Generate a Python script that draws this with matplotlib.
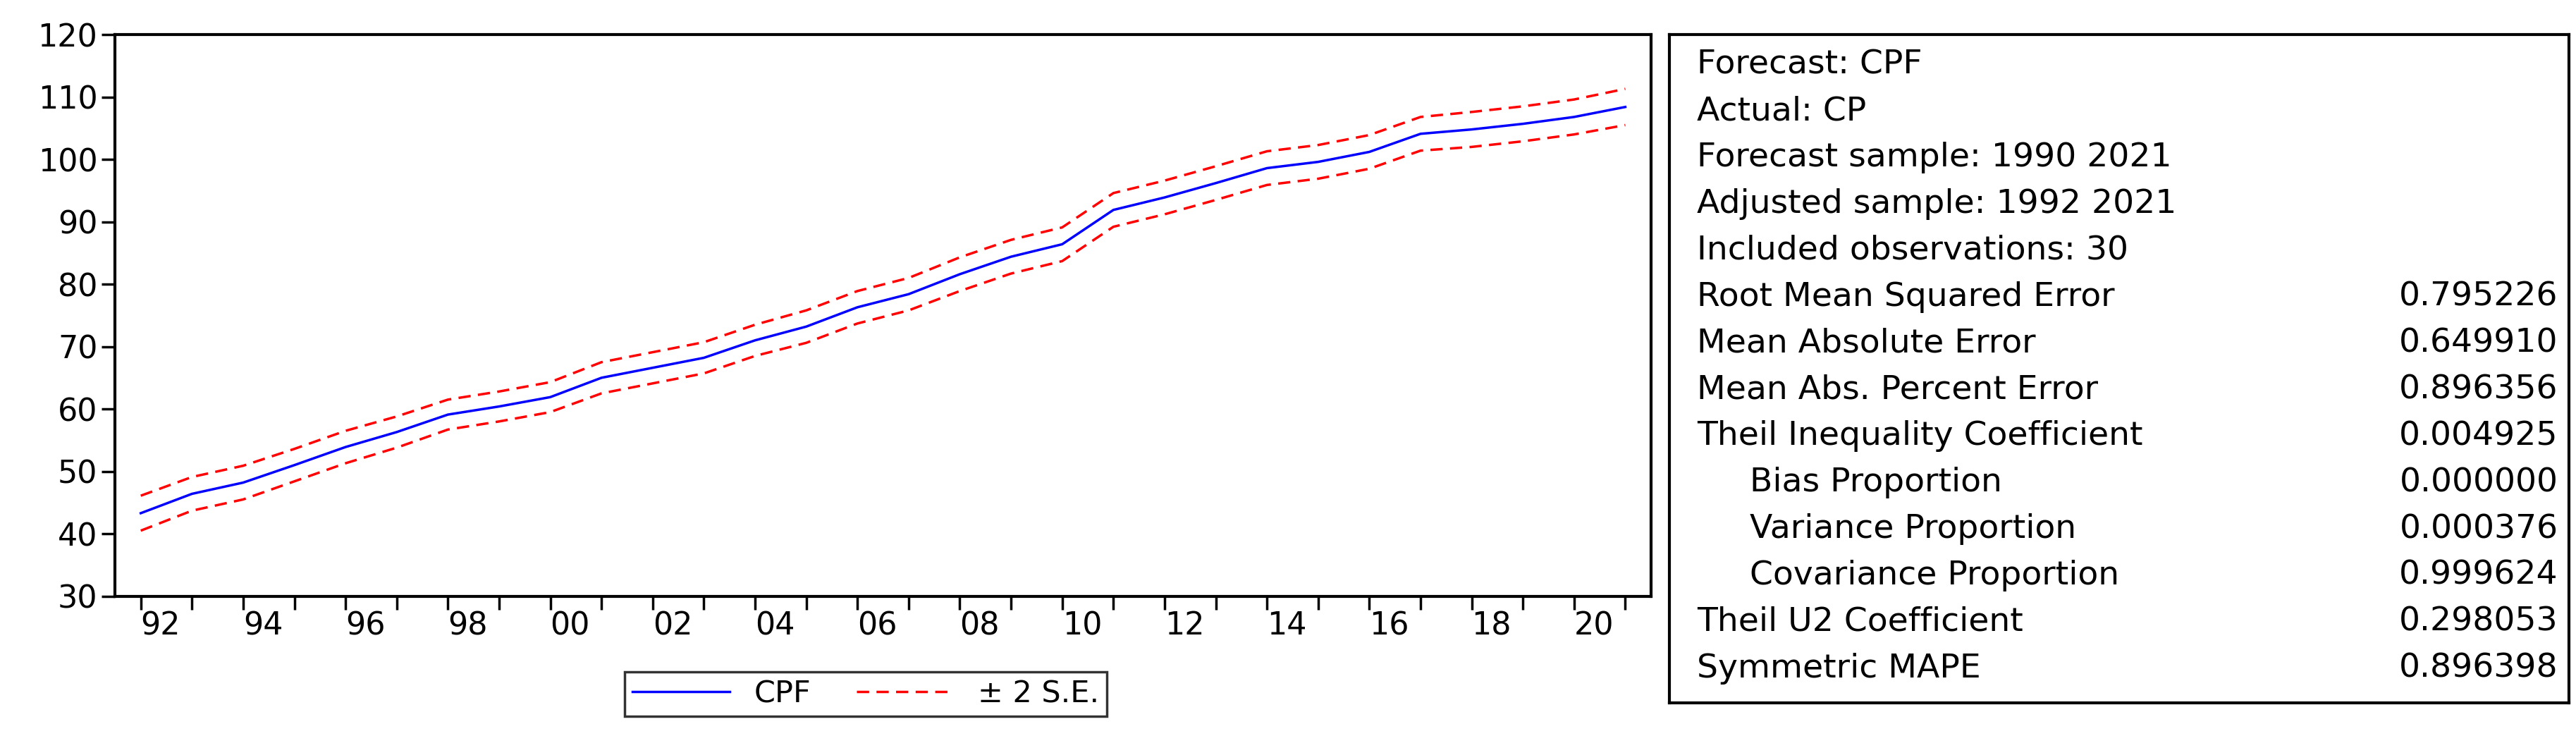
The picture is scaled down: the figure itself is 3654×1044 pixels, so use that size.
import matplotlib.pyplot as plt
from matplotlib.lines import Line2D

plt.rcParams['font.family'] = ['DejaVu Sans']

years = list(range(1992, 2022))
cpf = [43.3, 46.4, 48.2, 51.0, 53.9, 56.3, 59.1, 60.4, 61.9, 65.0,
       66.6, 68.2, 71.0, 73.2, 76.3, 78.4, 81.6, 84.4, 86.4, 91.9,
       93.9, 96.2, 98.6, 99.6, 101.2, 104.1, 104.8, 105.7, 106.8, 108.4]
# two standard errors around the forecast
band = [2.8, 2.7, 2.7, 2.6, 2.6, 2.5, 2.4, 2.4, 2.4, 2.5,
        2.5, 2.5, 2.5, 2.6, 2.6, 2.6, 2.7, 2.7, 2.7, 2.7,
        2.7, 2.7, 2.7, 2.7, 2.7, 2.7, 2.8, 2.8, 2.8, 2.9]
upper = [c + b for c, b in zip(cpf, band)]
lower = [c - b for c, b in zip(cpf, band)]

stat_names = ["Forecast: CPF", "Actual: CP", "Forecast sample: 1990 2021",
              "Adjusted sample: 1992 2021", "Included observations: 30",
              "Root Mean Squared Error", "Mean Absolute Error",
              "Mean Abs. Percent Error", "Theil Inequality Coefficient",
              "     Bias Proportion", "     Variance Proportion",
              "     Covariance Proportion", "Theil U2 Coefficient",
              "Symmetric MAPE"]
stat_values = ["", "", "", "", "", "0.795226", "0.649910", "0.896356",
               "0.004925", "0.000000", "0.000376", "0.999624", "0.298053",
               "0.896398"]

fig = plt.figure(figsize=(36.55, 10.44), dpi=100)
ax = fig.add_axes([0.0447, 0.190, 0.596, 0.763])

ax.plot(years, cpf, color='blue', lw=2.5)
ax.plot(years, upper, color='red', lw=2.5, ls=(0, (5, 3)))
ax.plot(years, lower, color='red', lw=2.5, ls=(0, (5, 3)))

ax.set_xlim(1991.5, 2021.5)
ax.set_ylim(30, 120)
ax.set_yticks(range(30, 121, 10))
ax.set_xticks(years)
ax.set_xticklabels([f"{y % 100:02d}" if y % 2 == 0 else "" for y in years])
ax.tick_params(axis='both', labelsize=32, width=2.5, length=14, direction='out')
ax.tick_params(axis='x', pad=1)
ax.tick_params(axis='y', pad=4)
for lab in ax.get_xticklabels():
    lab.set_horizontalalignment('left')
for s in ax.spines.values():
    s.set_linewidth(3)

handles = [Line2D([], [], color='blue', lw=2.5),
           Line2D([], [], color='red', lw=2.5, ls=(0, (5, 3)))]
leg = fig.legend(handles, ["CPF", "\u00b1 2 S.E."], loc='center',
                 bbox_to_anchor=(0.336, 0.057), ncol=2, fontsize=31,
                 frameon=True, fancybox=False, edgecolor='black',
                 handlelength=3.2, columnspacing=1.5, borderpad=0.25)
leg.get_frame().set_linewidth(2.5)

box = fig.add_axes([0.648, 0.045, 0.349, 0.908])
box.set_xticks([])
box.set_yticks([])
box.set_ylim(0, 1)
box.set_xlim(0, 1)
for s in box.spines.values():
    s.set_linewidth(3)
for i, (name, val) in enumerate(zip(stat_names, stat_values)):
    yy = 0.955 - i * 0.0695
    box.text(0.03, yy, name, fontsize=34, va='center', ha='left')
    box.text(0.988, yy, val, fontsize=34, va='center', ha='right')

fig.savefig("out.png", dpi=100)
